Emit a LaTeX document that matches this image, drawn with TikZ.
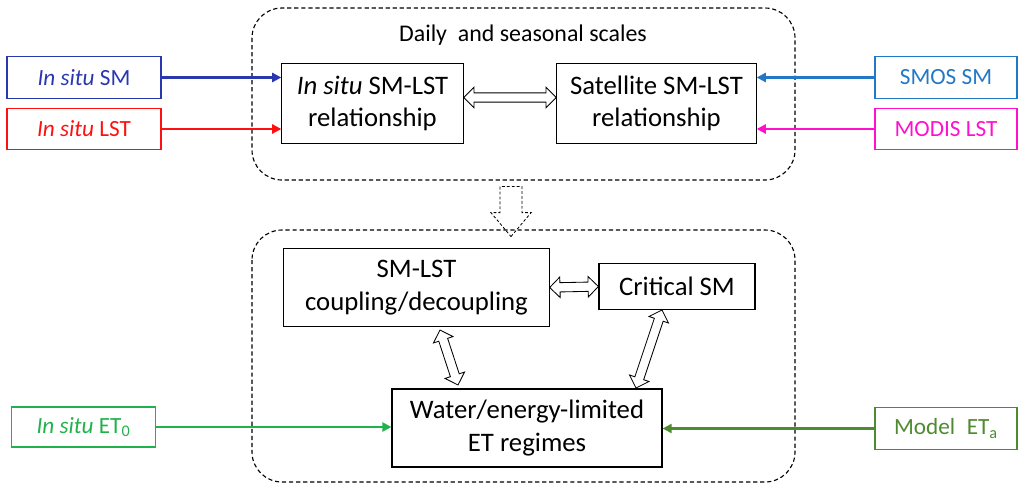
\documentclass[tikz,border=0pt]{standalone}
\usepackage{fontspec}
\setmainfont{Carlito}
\usetikzlibrary{arrows.meta,calc,shapes.arrows}

\definecolor{insmc}{HTML}{2A38B0}
\definecolor{inlstc}{HTML}{FF1010}
\definecolor{smosc}{HTML}{2278C6}
\definecolor{modisc}{HTML}{FF10CC}
\definecolor{et0c}{HTML}{22B24C}
\definecolor{etac}{HTML}{4E8A30}

\tikzset{
	box/.style={draw, line width=0.8pt, align=center, inner sep=0pt, font=\fontsize{19}{23}\selectfont},
	srcbox/.style={draw=#1, text=#1, line width=0.8pt, inner sep=0pt, font=\fontsize{16.5}{19}\selectfont},
	feed/.style={draw=#1, line width=1.5pt, -{Triangle[length=6.5pt,width=6.5pt]}},
	frame/.style={draw, dash pattern=on 3pt off 2pt, rounded corners=0.75cm, line width=0.8pt},
	dblarrow/.style={draw, line width=0.6pt, shape=double arrow, inner xsep=0pt, inner ysep=3pt,
		minimum width=0pt, double arrow head extend=4pt, double arrow tip angle=90},
	flowarrow/.style={draw, dash pattern=on 2pt off 1.5pt, line width=0.6pt, shape=single arrow, inner xsep=0pt,
		inner ysep=7.5pt, minimum width=0pt, single arrow head extend=6.5pt, single arrow tip angle=80},
}

% hollow two-headed arrow from #1 to #2, named #3
\newcommand{\linkarrow}[3]{%
	\path let \p1=($(#2)-(#1)$), \n1={atan2(\y1,\x1)}, \n2={veclen(\x1,\y1)} in
		node[dblarrow, minimum height=\n2, rotate=\n1] (#3) at ($(#1)!0.5!(#2)$) {};}

\begin{document}
\begin{tikzpicture}[x=0.025cm, y=-0.025cm]
	\useasboundingbox (0,0) rectangle (1024,494);

	% dashed frames
	\draw[frame] (252,8) rectangle (795,180);
	\draw[frame] (252,230) rectangle (795,482);
	\node[font=\fontsize{17}{20}\selectfont] (scales) at (523,35) {Daily\ \ and seasonal scales};

	% inputs
	\node[srcbox=insmc, minimum width=3.85cm, minimum height=1.03cm] (insm) at (84,77.5) {\textit{In situ} SM};
	\node[srcbox=inlstc, minimum width=3.85cm, minimum height=1.03cm] (inlst) at (84,129) {\textit{In situ} LST};
	\node[srcbox=smosc, minimum width=3.55cm, minimum height=1.03cm] (smos) at (946,77.5) {SMOS SM};
	\node[srcbox=modisc, minimum width=3.55cm, minimum height=1.03cm] (modis) at (946,129) {MODIS LST};
	\node[srcbox=et0c, minimum width=3.58cm, minimum height=1.0cm] (inet) at (83.5,427) {\textit{In situ} ET\textsubscript{0}};
	\node[srcbox=etac, minimum width=3.55cm, minimum height=1.07cm] (modet) at (946,428.5) {Model\enspace ET\textsubscript{a}};

	% relationships
	\node[box, minimum width=4.53cm, minimum height=1.98cm] (isrel) at (372.5,103.5) {\textit{In situ} SM-LST\\relationship};
	\node[box, minimum width=4.98cm, minimum height=1.98cm] (satrel) at (656.5,103.5) {Satellite SM-LST\\relationship};
	\node[box, minimum width=6.63cm, minimum height=1.93cm] (coupling) at (416.5,287.5) {SM-LST\\coupling/decoupling};
	\node[box, minimum width=3.9cm, minimum height=1.13cm] (critical) at (677,286.5) {Critical SM};
	\node[box, minimum width=6.75cm, minimum height=1.95cm] (regime) at (527,428) {Water/energy-limited\\ET regimes};

	\node[flowarrow, minimum height=1.25cm, rotate=-90] (flow) at (511,205) {};

	% feeds
	\draw[feed=insmc] (insm.east) -- (insm.east -| isrel.west);
	\draw[feed=inlstc] (inlst.east) -- (inlst.east -| isrel.west);
	\draw[feed=smosc] (smos.west) -- (smos.west -| satrel.east);
	\draw[feed=modisc] (modis.west) -- (modis.west -| satrel.east);
	\draw[feed=et0c] (inet.east) -- (inet.east -| regime.west);
	\draw[feed=etac] (modet.west) -- (modet.west -| regime.east);

	% two-way links
	\coordinate (a1) at ($(isrel.east)+(0,-6)$);
	\coordinate (b1) at ($(satrel.west)+(0,-6)$);
	\coordinate (a3) at (440,330);
	\coordinate (b3) at (458,385);
	\coordinate (a4) at (662,310);
	\coordinate (b4) at (636,388);
	\linkarrow{a1}{b1}{relswap}
	\linkarrow{coupling.east}{critical.west}{cplswap}
	\linkarrow{a3}{b3}{cplreg}
	\linkarrow{a4}{b4}{critreg}
\end{tikzpicture}
\end{document}
